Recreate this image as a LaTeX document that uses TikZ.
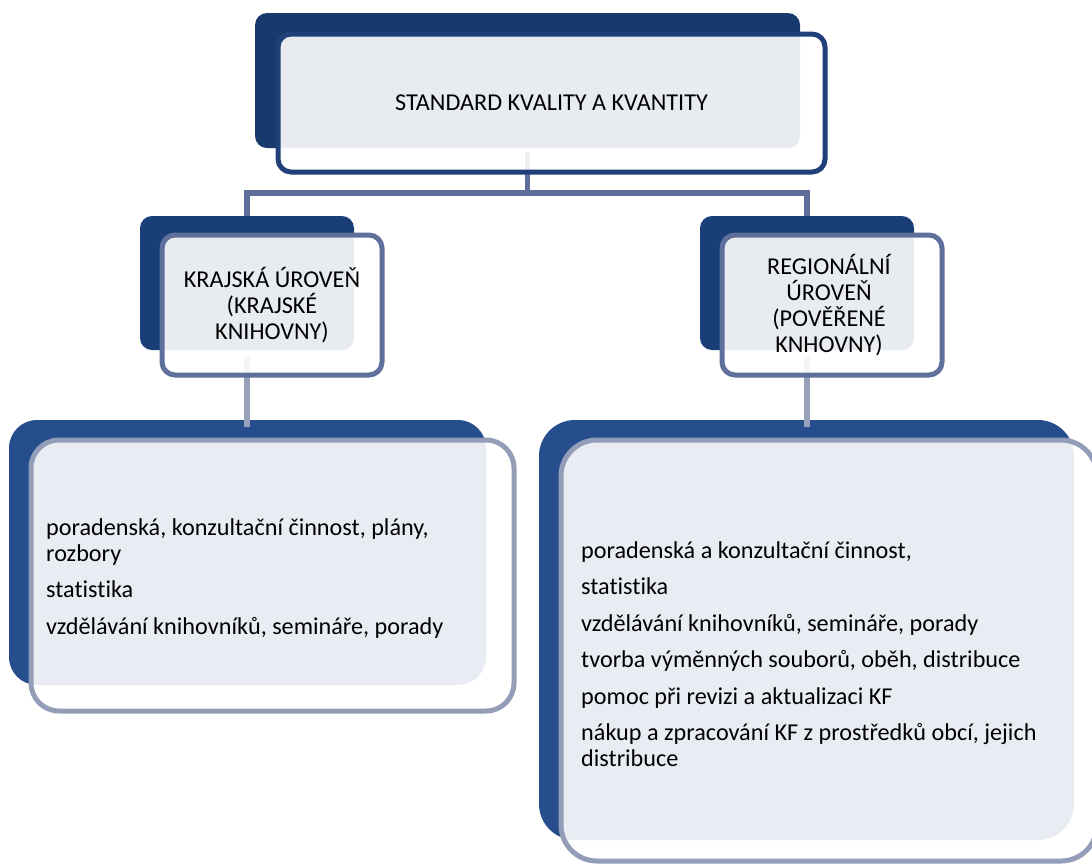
\documentclass[tikz,border=0pt]{standalone}
\usepackage{fontspec}
\setmainfont{Carlito}[Ligatures={NoCommon}]
\definecolor{topDark}{HTML}{17396B}
\definecolor{midDark}{HTML}{1A3F78}
\definecolor{botDark}{HTML}{264E8C}
\definecolor{topLine}{HTML}{1F4079}
\definecolor{midLine}{HTML}{5F6F9B}
\definecolor{botLine}{HTML}{939DB8}
\definecolor{connA}{HTML}{5E6E9A}
\definecolor{connB}{HTML}{98A1BC}
\begin{document}
\begin{tikzpicture}[x=1pt,y=-1pt,
  back/.style={inner sep=0pt, outer sep=0pt, draw=none},
  front/.style={inner sep=0pt, outer sep=0pt, fill=white, fill opacity=0.9, text opacity=1, line width=5pt},
  conn/.style={line width=5.5pt},
  lbl/.style={inner sep=0pt, font=\fontsize{24.2}{26}\selectfont, text=black, align=center},
  lst/.style={inner sep=0pt, font=\fontsize{24.2}{25.5}\selectfont, text=black, align=left, anchor=west},
]
\useasboundingbox (0,0) rectangle (1092,863);

% back (dark) shapes
\node[back, fill=topDark, rounded corners=12pt, minimum width=545pt, minimum height=135pt] (topD) at (527.5,80.5) {};
\node[back, fill=midDark, rounded corners=12pt, minimum width=214pt, minimum height=134pt] (leftD) at (247,283) {};
\node[back, fill=midDark, rounded corners=12pt, minimum width=214pt, minimum height=134pt] (rightD) at (807,283) {};
\node[back, fill=botDark, rounded corners=28pt, minimum width=477pt, minimum height=265pt] (blD) at (247.5,552.5) {};
\node[back, fill=botDark, rounded corners=36pt, minimum width=535pt, minimum height=420pt] (brD) at (806.5,630) {};

% connectors
\coordinate (hub) at ([yshift=-45pt]topD.south);
\draw[conn, connA] ([yshift=-4pt]topD.south) -- (hub);
\draw[conn, connA] (leftD.north) |- (hub) -| (rightD.north);
\draw[conn, connB] ([yshift=-7pt]leftD.south) -- ([yshift=-7pt]leftD.south |- blD.north);
\draw[conn, connB] ([yshift=-7pt]rightD.south) -- ([yshift=-7pt]rightD.south |- brD.north);

% front (outlined) shapes
\node[front, draw=topLine, rounded corners=13pt, minimum width=547pt, minimum height=138pt] (topO) at (551.5,103) {};
\node[front, draw=midLine, rounded corners=13pt, minimum width=220pt, minimum height=140pt] (leftO) at (272,305) {};
\node[front, draw=midLine, rounded corners=13pt, minimum width=220pt, minimum height=140pt] (rightO) at (832,305) {};
\node[front, draw=botLine, rounded corners=28pt, minimum width=483pt, minimum height=271pt] (blO) at (272.5,575.5) {};
\node[front, draw=botLine, rounded corners=36pt, minimum width=536pt, minimum height=421pt] (brO) at (829,650.5) {};

% texts
\node[lbl] (tTop) at (topO.center) {STANDARD KVALITY A KVANTITY};
\node[lbl] (tLeft) at (leftO.center) {KRAJSKÁ ÚROVEŇ\\(KRAJSKÉ\\KNIHOVNY)};
\node[lbl] (tRight) at ([xshift=-3pt]rightO.center) {REGIONÁLNÍ\\ÚROVEŇ\\(POVĚŘENÉ\\KNHOVNY)};
\node[lst] (tBL) at ([xshift=15pt,yshift=-3pt]blO.west) {poradenská, konzultační činnost, plány,\\rozbory\\[11pt]statistika\\[11pt]vzdělávání knihovníků, semináře, porady};
\node[lst] (tBR) at ([xshift=20pt,yshift=-3.5pt]brO.west) {poradenská a konzultační činnost,\\[11pt]statistika\\[11pt]vzdělávání knihovníků, semináře, porady\\[11pt]tvorba výměnných souborů, oběh, distribuce\\[11pt]pomoc při revizi a aktualizaci KF\\[11pt]nákup a zpracování KF z prostředků obcí, jejich\\distribuce};
\end{tikzpicture}
\end{document}
